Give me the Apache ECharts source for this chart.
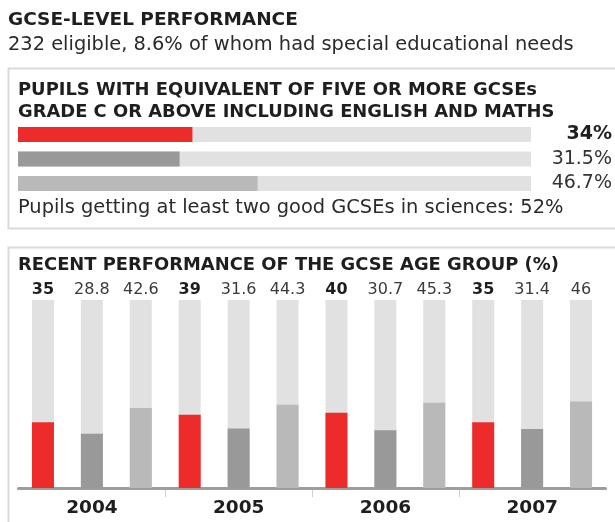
<!DOCTYPE html>
<html>
<head>
<meta charset="utf-8">
<title>GCSE-level performance</title>
<script src="https://cdn.jsdelivr.net/npm/echarts@6/dist/echarts.min.js"></script>
<style>
    html, body { margin: 0; padding: 0; background: #fff; }
    #chart { width: 615px; height: 522px; }
</style>
</head>
<body>
<div id="chart"></div>
<script>
// latest figures (top panel)
const currentLabels = ['school', 'authority', 'england'];
const currentValues = [34, 31.5, 46.7];

// recent performance by year (bottom panel)
const years = ['2004', '2005', '2006', '2007'];
const schoolValues = [35, 39, 40, 35];
const authorityValues = [28.8, 31.6, 30.7, 31.4];
const englandValues = [42.6, 44.3, 45.3, 46];

const colors = ['#ee2b2b', '#999999', '#b9b9b9'];
const trackColor = '#e1e1e1';
const font = '"DejaVu Sans", Verdana, sans-serif';

// interleave the three series, year by year
const yearBars = [];
years.forEach(function (y, i) {
    [schoolValues[i], authorityValues[i], englandValues[i]].forEach(function (v, k) {
        yearBars.push({ value: v, itemStyle: { color: colors[k] } });
    });
});
const yearBarLabels = yearBars.map(function (d) { return String(d.value); });

// small helper for the plain text lines
function textLine(x, y, text, bold, size) {
    return {
        type: 'text', x: x, y: y, z: 10,
        style: {
            text: text,
            font: (bold ? 'bold ' : '') + size + 'px ' + font,
            fill: bold ? '#1e1e1e' : '#2a2a2a',
            verticalAlign: 'middle'
        }
    };
}

const chart = echarts.init(document.getElementById('chart'));

const option = {
    animation: false,
    textStyle: { fontFamily: font },
    graphic: [
        // panel frames
        { type: 'rect', shape: { x: 8.5, y: 68.5, width: 620, height: 160 },
          style: { fill: 'none', stroke: '#dadada', lineWidth: 2 }, z: 0 },
        { type: 'rect', shape: { x: 8.5, y: 247.5, width: 620, height: 300 },
          style: { fill: 'none', stroke: '#dadada', lineWidth: 2 }, z: 0 },
        // headings and notes
        textLine(8, 20, 'GCSE-LEVEL PERFORMANCE', true, 18.5),
        textLine(8, 45, '232 eligible, 8.6% of whom had special educational needs', false, 19.4),
        textLine(18, 90, 'PUPILS WITH EQUIVALENT OF FIVE OR MORE GCSEs', true, 17.9),
        textLine(18, 112, 'GRADE C OR ABOVE INCLUDING ENGLISH AND MATHS', true, 17.9),
        textLine(18, 208, 'Pupils getting at least two good GCSEs in sciences: 52%', false, 19.4),
        textLine(18, 265, 'RECENT PERFORMANCE OF THE GCSE AGE GROUP (%)', true, 17.9)
    ],
    grid: [
        { left: 18, top: 122.25, width: 513, height: 73.5 },
        { left: 18.5, top: 300, width: 587, height: 188 },
        // thin strip under the axis, only used for year labels and separators
        { left: 18.5, top: 489, width: 587, height: 8 }
    ],
    xAxis: [
        { gridIndex: 0, type: 'value', min: 0, max: 100, show: false },
        { gridIndex: 1, type: 'category', data: yearBarLabels, position: 'bottom',
          axisLine: { lineStyle: { color: '#9d9d9d', width: 3 } },
          axisTick: { show: false }, axisLabel: { show: false } },
        { gridIndex: 1, type: 'category', data: yearBarLabels, position: 'top',
          axisLine: { show: false }, axisTick: { show: false },
          axisLabel: {
              interval: 0, margin: 2,
              formatter: function (v, i) { return i % 3 === 0 ? '{b|' + v + '}' : '{n|' + v + '}'; },
              rich: {
                  b: { fontFamily: font, fontSize: 16, fontWeight: 'bold', color: '#1e1e1e' },
                  n: { fontFamily: font, fontSize: 16, color: '#3a3a3a' }
              }
          } },
        { gridIndex: 2, type: 'category', data: years, position: 'bottom',
          axisLine: { show: false }, axisTick: { show: false },
          axisLabel: { margin: 2, fontFamily: font, fontSize: 18.5, fontWeight: 'bold', color: '#1e1e1e' },
          splitLine: { show: true, showMinLine: false, showMaxLine: false,
                       lineStyle: { color: '#cfcfcf', width: 1 } } }
    ],
    yAxis: [
        { gridIndex: 0, type: 'category', data: currentLabels, inverse: true, show: false },
        { gridIndex: 0, type: 'category', data: currentValues.map(function (v) { return v + '%'; }),
          inverse: true, position: 'right',
          axisLine: { show: false }, axisTick: { show: false },
          axisLabel: {
              margin: 81, align: 'right',
              formatter: function (v, i) { return i === 0 ? '{b|' + v + '}' : '{n|' + v + '}'; },
              rich: {
                  b: { fontFamily: font, fontSize: 19, fontWeight: 'bold', color: '#1e1e1e' },
                  n: { fontFamily: font, fontSize: 19, color: '#333' }
              }
          } },
        { gridIndex: 1, type: 'value', min: 0, max: 100, show: false },
        { gridIndex: 2, type: 'value', show: false }
    ],
    series: [
        {
            type: 'bar', xAxisIndex: 0, yAxisIndex: 0, barWidth: 15,
            showBackground: true, backgroundStyle: { color: trackColor },
            data: currentValues.map(function (v, i) { return { value: v, itemStyle: { color: colors[i] } }; })
        },
        {
            type: 'bar', xAxisIndex: 1, yAxisIndex: 2, barWidth: 22,
            showBackground: true, backgroundStyle: { color: trackColor },
            data: yearBars
        }
    ]
};

chart.setOption(option);
</script>
</body>
</html>
